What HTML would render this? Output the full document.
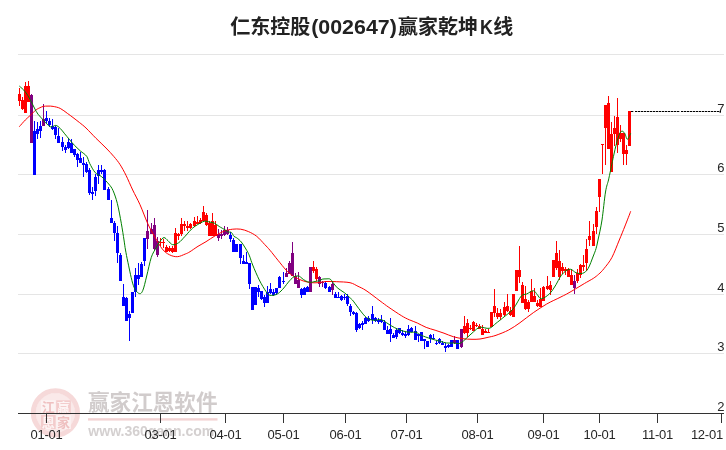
<!DOCTYPE html>
<html lang="zh-CN">
<head>
<meta charset="utf-8">
<title>仁东控股(002647)赢家乾坤K线</title>
<style>
html,body{margin:0;padding:0;background:#fff;}
body{width:726px;height:450px;overflow:hidden;position:relative;font-family:"Liberation Sans","Noto Sans CJK SC",sans-serif;}
#chart{position:absolute;left:0;top:0;width:726px;height:450px;display:block;}
.ttl{font-family:"Liberation Sans","Noto Sans CJK SC",sans-serif;font-weight:bold;font-size:20px;fill:#222;}
.lat{font-size:20.6px;}
.ax{font-family:"Liberation Sans",sans-serif;font-size:13px;letter-spacing:-0.25px;fill:#262626;}
.wm1{font-family:"Liberation Sans","Noto Sans CJK SC",sans-serif;font-size:21.5px;font-weight:bold;fill:#d1cccc;}
.wm2{font-family:"Liberation Sans",sans-serif;font-size:15px;font-weight:bold;fill:#d4d0d0;}
.seal{font-family:"Liberation Sans","Noto Sans CJK SC",sans-serif;font-size:13px;font-weight:bold;}
</style>
</head>
<body>
<svg id="chart" width="726" height="450" viewBox="0 0 726 450">
<rect x="0" y="0" width="726" height="450" fill="#ffffff"/>

<g shape-rendering="crispEdges" stroke="#e5e5e5" stroke-width="1">
<line x1="18" y1="54.5" x2="724" y2="54.5"/>
<line x1="18" y1="115.5" x2="724" y2="115.5"/>
<line x1="18" y1="174.5" x2="724" y2="174.5"/>
<line x1="18" y1="234.5" x2="724" y2="234.5"/>
<line x1="18" y1="294.5" x2="724" y2="294.5"/>
<line x1="18" y1="353.5" x2="724" y2="353.5"/>
</g>
<g id="watermark">
<circle cx="55.4" cy="412.8" r="19.8" fill="#fae9e9"/>
<circle cx="55.4" cy="412.8" r="22.1" fill="none" stroke="#f6d9d9" stroke-width="5"/>
<rect x="41" y="400.3" width="14.6" height="14" fill="#fcf3f3"/>
<rect x="56.2" y="400.3" width="14.6" height="14" fill="#f3cccc"/>
<rect x="41" y="415" width="14.6" height="14" fill="#f3cccc"/>
<rect x="56.2" y="415" width="14.6" height="14" fill="#fcf3f3"/>
<text class="seal" x="48.3" y="412.3" text-anchor="middle" fill="#efc0c0">江</text>
<text class="seal" x="63.5" y="412.3" text-anchor="middle" fill="#fdf4f4">赢</text>
<text class="seal" x="48.3" y="427" text-anchor="middle" fill="#fdf4f4">恩</text>
<text class="seal" x="63.5" y="427" text-anchor="middle" fill="#efc0c0">家</text>
<text class="wm1" x="88" y="409.5" textLength="129.5" lengthAdjust="spacingAndGlyphs">赢家江恩软件</text>
<rect x="88" y="418.2" width="129.5" height="2.4" fill="#f3d4d4"/>
<text class="wm2" x="88.3" y="436" textLength="126" lengthAdjust="spacingAndGlyphs">www.360gann.com</text>
</g>

<g shape-rendering="crispEdges" stroke="#333333" stroke-width="1">
<line x1="18" y1="413.5" x2="724" y2="413.5"/>
<line x1="46.5" y1="413" x2="46.5" y2="423"/>
<line x1="160.5" y1="413" x2="160.5" y2="423"/>
<line x1="225.5" y1="413" x2="225.5" y2="423"/>
<line x1="283.5" y1="413" x2="283.5" y2="423"/>
<line x1="345.5" y1="413" x2="345.5" y2="423"/>
<line x1="406.5" y1="413" x2="406.5" y2="423"/>
<line x1="477.5" y1="413" x2="477.5" y2="423"/>
<line x1="543.5" y1="413" x2="543.5" y2="423"/>
<line x1="599.5" y1="413" x2="599.5" y2="423"/>
<line x1="657.5" y1="413" x2="657.5" y2="423"/>
<line x1="721.5" y1="413" x2="721.5" y2="423"/>
</g>
<g class="ax" text-anchor="middle">
<text x="46.5" y="439.4">01-01</text>
<text x="160.5" y="439.4">03-01</text>
<text x="225.5" y="439.4">04-01</text>
<text x="283.5" y="439.4">05-01</text>
<text x="345.5" y="439.4">06-01</text>
<text x="406.5" y="439.4">07-01</text>
<text x="477.5" y="439.4">08-01</text>
<text x="543.5" y="439.4">09-01</text>
<text x="599.5" y="439.4">10-01</text>
<text x="657.5" y="439.4">11-01</text>
<text x="722.9" y="439.4" text-anchor="end">12-01</text>
</g>
<g class="ax" text-anchor="end">
<text x="724.2" y="112.7">7</text>
<text x="724.2" y="171.7">6</text>
<text x="724.2" y="231.7">5</text>
<text x="724.2" y="291.7">4</text>
<text x="724.2" y="350.7">3</text>
<text x="724.2" y="410.7">2</text>
</g>
<g id="candles" shape-rendering="crispEdges">
<rect x="19" y="88" width="1" height="18" fill="#ff0000"/>
<rect x="18" y="94" width="3" height="7" fill="#ff0000"/>
<rect x="22" y="97" width="1" height="13" fill="#ff0000"/>
<rect x="21" y="100" width="3" height="9" fill="#ff0000"/>
<rect x="25" y="82" width="1" height="31" fill="#ff0000"/>
<rect x="24" y="86" width="3" height="27" fill="#ff0000"/>
<rect x="28" y="81" width="1" height="21" fill="#ff0000"/>
<rect x="27" y="86" width="3" height="16" fill="#ff0000"/>
<rect x="31" y="94" width="1" height="49" fill="#800080"/>
<rect x="30" y="95" width="3" height="48" fill="#800080"/>
<rect x="34" y="121" width="1" height="54" fill="#0000ff"/>
<rect x="33" y="131" width="3" height="44" fill="#0000ff"/>
<rect x="37" y="122" width="1" height="17" fill="#0000ff"/>
<rect x="36" y="129" width="3" height="5" fill="#0000ff"/>
<rect x="40" y="121" width="1" height="17" fill="#0000ff"/>
<rect x="39" y="126" width="3" height="5" fill="#0000ff"/>
<rect x="43" y="104" width="1" height="22" fill="#800080"/>
<rect x="42" y="119" width="3" height="7" fill="#800080"/>
<rect x="46" y="111" width="1" height="12" fill="#0000ff"/>
<rect x="45" y="118" width="3" height="3" fill="#0000ff"/>
<rect x="49" y="118" width="1" height="9" fill="#0000ff"/>
<rect x="48" y="121" width="3" height="4" fill="#0000ff"/>
<rect x="52" y="119" width="1" height="11" fill="#0000ff"/>
<rect x="51" y="126" width="3" height="3" fill="#0000ff"/>
<rect x="55" y="126" width="1" height="13" fill="#0000ff"/>
<rect x="54" y="127" width="3" height="8" fill="#0000ff"/>
<rect x="58" y="128" width="1" height="15" fill="#0000ff"/>
<rect x="57" y="136" width="3" height="7" fill="#0000ff"/>
<rect x="62" y="137" width="1" height="14" fill="#0000ff"/>
<rect x="61" y="142" width="3" height="5" fill="#0000ff"/>
<rect x="65" y="145" width="1" height="8" fill="#0000ff"/>
<rect x="64" y="147" width="3" height="3" fill="#0000ff"/>
<rect x="68" y="138" width="1" height="11" fill="#0000ff"/>
<rect x="67" y="142" width="3" height="6" fill="#0000ff"/>
<rect x="71" y="139" width="1" height="14" fill="#0000ff"/>
<rect x="70" y="143" width="3" height="10" fill="#0000ff"/>
<rect x="74" y="149" width="1" height="8" fill="#0000ff"/>
<rect x="73" y="149" width="3" height="6" fill="#0000ff"/>
<rect x="77" y="153" width="1" height="14" fill="#0000ff"/>
<rect x="76" y="154" width="3" height="6" fill="#0000ff"/>
<rect x="80" y="152" width="1" height="11" fill="#0000ff"/>
<rect x="79" y="158" width="3" height="5" fill="#0000ff"/>
<rect x="83" y="157" width="1" height="20" fill="#0000ff"/>
<rect x="82" y="163" width="3" height="2" fill="#0000ff"/>
<rect x="86" y="162" width="1" height="11" fill="#0000ff"/>
<rect x="85" y="164" width="3" height="8" fill="#0000ff"/>
<rect x="89" y="168" width="1" height="27" fill="#0000ff"/>
<rect x="88" y="170" width="3" height="23" fill="#0000ff"/>
<rect x="92" y="187" width="1" height="13" fill="#0000ff"/>
<rect x="91" y="192" width="3" height="2" fill="#0000ff"/>
<rect x="95" y="174" width="1" height="22" fill="#0000ff"/>
<rect x="94" y="177" width="3" height="14" fill="#0000ff"/>
<rect x="98" y="165" width="1" height="19" fill="#0000ff"/>
<rect x="97" y="170" width="3" height="6" fill="#0000ff"/>
<rect x="101" y="165" width="1" height="9" fill="#0000ff"/>
<rect x="100" y="170" width="3" height="2" fill="#0000ff"/>
<rect x="104" y="169" width="1" height="21" fill="#0000ff"/>
<rect x="103" y="170" width="3" height="20" fill="#0000ff"/>
<rect x="108" y="187" width="1" height="13" fill="#0000ff"/>
<rect x="107" y="189" width="3" height="11" fill="#0000ff"/>
<rect x="111" y="200" width="1" height="23" fill="#0000ff"/>
<rect x="110" y="218" width="3" height="5" fill="#0000ff"/>
<rect x="114" y="221" width="1" height="20" fill="#0000ff"/>
<rect x="113" y="223" width="3" height="10" fill="#0000ff"/>
<rect x="117" y="226" width="1" height="37" fill="#0000ff"/>
<rect x="116" y="233" width="3" height="20" fill="#0000ff"/>
<rect x="120" y="253" width="1" height="28" fill="#0000ff"/>
<rect x="119" y="255" width="3" height="26" fill="#0000ff"/>
<rect x="123" y="284" width="1" height="22" fill="#0000ff"/>
<rect x="122" y="297" width="3" height="9" fill="#0000ff"/>
<rect x="126" y="297" width="1" height="24" fill="#0000ff"/>
<rect x="125" y="298" width="3" height="23" fill="#0000ff"/>
<rect x="129" y="311" width="1" height="30" fill="#0000ff"/>
<rect x="128" y="314" width="3" height="4" fill="#0000ff"/>
<rect x="132" y="292" width="1" height="21" fill="#0000ff"/>
<rect x="131" y="292" width="3" height="21" fill="#0000ff"/>
<rect x="135" y="268" width="1" height="29" fill="#0000ff"/>
<rect x="134" y="275" width="3" height="17" fill="#0000ff"/>
<rect x="138" y="263" width="1" height="22" fill="#0000ff"/>
<rect x="137" y="275" width="3" height="4" fill="#0000ff"/>
<rect x="141" y="262" width="1" height="15" fill="#0000ff"/>
<rect x="140" y="264" width="3" height="13" fill="#0000ff"/>
<rect x="144" y="238" width="1" height="28" fill="#0000ff"/>
<rect x="143" y="238" width="3" height="23" fill="#0000ff"/>
<rect x="147" y="210" width="1" height="39" fill="#800080"/>
<rect x="146" y="231" width="3" height="8" fill="#800080"/>
<rect x="151" y="223" width="1" height="11" fill="#800080"/>
<rect x="150" y="229" width="3" height="5" fill="#800080"/>
<rect x="154" y="218" width="1" height="32" fill="#800080"/>
<rect x="153" y="225" width="3" height="24" fill="#800080"/>
<rect x="157" y="237" width="1" height="20" fill="#800080"/>
<rect x="156" y="241" width="3" height="14" fill="#800080"/>
<rect x="160" y="238" width="1" height="8" fill="#ff0000"/>
<rect x="159" y="242" width="3" height="1" fill="#ff0000"/>
<rect x="163" y="239" width="1" height="9" fill="#ff0000"/>
<rect x="162" y="242" width="3" height="1" fill="#ff0000"/>
<rect x="166" y="245" width="1" height="7" fill="#ff0000"/>
<rect x="165" y="247" width="3" height="5" fill="#ff0000"/>
<rect x="169" y="246" width="1" height="6" fill="#ff0000"/>
<rect x="168" y="248" width="3" height="3" fill="#ff0000"/>
<rect x="172" y="246" width="1" height="7" fill="#ff0000"/>
<rect x="171" y="248" width="3" height="4" fill="#ff0000"/>
<rect x="175" y="228" width="1" height="24" fill="#ff0000"/>
<rect x="174" y="233" width="3" height="19" fill="#ff0000"/>
<rect x="178" y="233" width="1" height="7" fill="#ff0000"/>
<rect x="177" y="234" width="3" height="2" fill="#ff0000"/>
<rect x="181" y="218" width="1" height="18" fill="#ff0000"/>
<rect x="180" y="224" width="3" height="10" fill="#ff0000"/>
<rect x="184" y="221" width="1" height="10" fill="#ff0000"/>
<rect x="183" y="224" width="3" height="2" fill="#ff0000"/>
<rect x="187" y="221" width="1" height="10" fill="#ff0000"/>
<rect x="186" y="226" width="3" height="2" fill="#ff0000"/>
<rect x="190" y="223" width="1" height="6" fill="#ff0000"/>
<rect x="189" y="224" width="3" height="4" fill="#ff0000"/>
<rect x="194" y="217" width="1" height="10" fill="#ff0000"/>
<rect x="193" y="221" width="3" height="5" fill="#ff0000"/>
<rect x="197" y="216" width="1" height="8" fill="#ff0000"/>
<rect x="196" y="222" width="3" height="2" fill="#ff0000"/>
<rect x="200" y="218" width="1" height="6" fill="#ff0000"/>
<rect x="199" y="220" width="3" height="3" fill="#ff0000"/>
<rect x="203" y="206" width="1" height="15" fill="#ff0000"/>
<rect x="202" y="212" width="3" height="9" fill="#ff0000"/>
<rect x="206" y="213" width="1" height="13" fill="#ff0000"/>
<rect x="205" y="215" width="3" height="10" fill="#ff0000"/>
<rect x="209" y="221" width="1" height="15" fill="#ff0000"/>
<rect x="208" y="223" width="3" height="13" fill="#ff0000"/>
<rect x="212" y="213" width="1" height="23" fill="#ff0000"/>
<rect x="211" y="221" width="3" height="15" fill="#ff0000"/>
<rect x="215" y="221" width="1" height="15" fill="#ff0000"/>
<rect x="214" y="225" width="3" height="11" fill="#ff0000"/>
<rect x="218" y="229" width="1" height="12" fill="#800080"/>
<rect x="217" y="234" width="3" height="4" fill="#800080"/>
<rect x="221" y="230" width="1" height="9" fill="#800080"/>
<rect x="220" y="234" width="3" height="2" fill="#800080"/>
<rect x="224" y="226" width="1" height="10" fill="#800080"/>
<rect x="223" y="230" width="3" height="5" fill="#800080"/>
<rect x="227" y="227" width="1" height="8" fill="#800080"/>
<rect x="226" y="230" width="3" height="4" fill="#800080"/>
<rect x="230" y="232" width="1" height="10" fill="#0000ff"/>
<rect x="229" y="235" width="3" height="4" fill="#0000ff"/>
<rect x="233" y="238" width="1" height="14" fill="#0000ff"/>
<rect x="232" y="240" width="3" height="12" fill="#0000ff"/>
<rect x="236" y="244" width="1" height="8" fill="#0000ff"/>
<rect x="235" y="244" width="3" height="8" fill="#0000ff"/>
<rect x="240" y="244" width="1" height="20" fill="#0000ff"/>
<rect x="239" y="244" width="3" height="14" fill="#0000ff"/>
<rect x="243" y="255" width="1" height="9" fill="#0000ff"/>
<rect x="242" y="261" width="3" height="3" fill="#0000ff"/>
<rect x="246" y="252" width="1" height="12" fill="#0000ff"/>
<rect x="245" y="262" width="3" height="2" fill="#0000ff"/>
<rect x="249" y="263" width="1" height="26" fill="#0000ff"/>
<rect x="248" y="263" width="3" height="21" fill="#0000ff"/>
<rect x="252" y="287" width="1" height="23" fill="#0000ff"/>
<rect x="251" y="287" width="3" height="23" fill="#0000ff"/>
<rect x="255" y="287" width="1" height="18" fill="#0000ff"/>
<rect x="254" y="287" width="3" height="18" fill="#0000ff"/>
<rect x="258" y="285" width="1" height="12" fill="#0000ff"/>
<rect x="257" y="288" width="3" height="4" fill="#0000ff"/>
<rect x="261" y="291" width="1" height="9" fill="#0000ff"/>
<rect x="260" y="291" width="3" height="8" fill="#0000ff"/>
<rect x="264" y="295" width="1" height="12" fill="#0000ff"/>
<rect x="263" y="297" width="3" height="6" fill="#0000ff"/>
<rect x="267" y="286" width="1" height="17" fill="#0000ff"/>
<rect x="266" y="292" width="3" height="11" fill="#0000ff"/>
<rect x="270" y="283" width="1" height="11" fill="#0000ff"/>
<rect x="269" y="289" width="3" height="4" fill="#0000ff"/>
<rect x="273" y="289" width="1" height="7" fill="#0000ff"/>
<rect x="272" y="292" width="3" height="3" fill="#0000ff"/>
<rect x="276" y="288" width="1" height="7" fill="#0000ff"/>
<rect x="275" y="288" width="3" height="5" fill="#0000ff"/>
<rect x="279" y="276" width="1" height="12" fill="#0000ff"/>
<rect x="278" y="277" width="3" height="11" fill="#0000ff"/>
<rect x="283" y="272" width="1" height="12" fill="#0000ff"/>
<rect x="282" y="281" width="3" height="1" fill="#0000ff"/>
<rect x="286" y="268" width="1" height="9" fill="#800080"/>
<rect x="285" y="273" width="3" height="4" fill="#800080"/>
<rect x="289" y="261" width="1" height="13" fill="#800080"/>
<rect x="288" y="263" width="3" height="11" fill="#800080"/>
<rect x="292" y="242" width="1" height="34" fill="#800080"/>
<rect x="291" y="253" width="3" height="23" fill="#800080"/>
<rect x="295" y="273" width="1" height="11" fill="#800080"/>
<rect x="294" y="276" width="3" height="8" fill="#800080"/>
<rect x="298" y="272" width="1" height="16" fill="#800080"/>
<rect x="297" y="280" width="3" height="8" fill="#800080"/>
<rect x="301" y="288" width="1" height="10" fill="#0000ff"/>
<rect x="300" y="289" width="3" height="6" fill="#0000ff"/>
<rect x="304" y="287" width="1" height="8" fill="#0000ff"/>
<rect x="303" y="288" width="3" height="7" fill="#0000ff"/>
<rect x="307" y="286" width="1" height="6" fill="#0000ff"/>
<rect x="306" y="287" width="3" height="5" fill="#0000ff"/>
<rect x="310" y="267" width="1" height="25" fill="#800080"/>
<rect x="309" y="267" width="3" height="25" fill="#800080"/>
<rect x="313" y="261" width="1" height="12" fill="#ff0000"/>
<rect x="312" y="267" width="3" height="4" fill="#ff0000"/>
<rect x="316" y="267" width="1" height="14" fill="#ff0000"/>
<rect x="315" y="269" width="3" height="10" fill="#ff0000"/>
<rect x="319" y="276" width="1" height="11" fill="#800080"/>
<rect x="318" y="277" width="3" height="7" fill="#800080"/>
<rect x="322" y="281" width="1" height="6" fill="#800080"/>
<rect x="321" y="282" width="3" height="1" fill="#800080"/>
<rect x="325" y="281" width="1" height="8" fill="#0000ff"/>
<rect x="324" y="283" width="3" height="5" fill="#0000ff"/>
<rect x="329" y="286" width="1" height="6" fill="#0000ff"/>
<rect x="328" y="287" width="3" height="5" fill="#0000ff"/>
<rect x="332" y="282" width="1" height="13" fill="#800080"/>
<rect x="331" y="284" width="3" height="6" fill="#800080"/>
<rect x="335" y="292" width="1" height="6" fill="#0000ff"/>
<rect x="334" y="294" width="3" height="4" fill="#0000ff"/>
<rect x="338" y="292" width="1" height="6" fill="#0000ff"/>
<rect x="337" y="297" width="3" height="1" fill="#0000ff"/>
<rect x="341" y="295" width="1" height="6" fill="#0000ff"/>
<rect x="340" y="296" width="3" height="4" fill="#0000ff"/>
<rect x="344" y="294" width="1" height="6" fill="#0000ff"/>
<rect x="343" y="297" width="3" height="1" fill="#0000ff"/>
<rect x="347" y="294" width="1" height="12" fill="#0000ff"/>
<rect x="346" y="296" width="3" height="8" fill="#0000ff"/>
<rect x="350" y="304" width="1" height="12" fill="#0000ff"/>
<rect x="349" y="306" width="3" height="6" fill="#0000ff"/>
<rect x="353" y="311" width="1" height="4" fill="#0000ff"/>
<rect x="352" y="312" width="3" height="2" fill="#0000ff"/>
<rect x="356" y="312" width="1" height="20" fill="#0000ff"/>
<rect x="355" y="313" width="3" height="17" fill="#0000ff"/>
<rect x="359" y="323" width="1" height="6" fill="#0000ff"/>
<rect x="358" y="324" width="3" height="4" fill="#0000ff"/>
<rect x="362" y="321" width="1" height="9" fill="#0000ff"/>
<rect x="361" y="323" width="3" height="2" fill="#0000ff"/>
<rect x="365" y="317" width="1" height="7" fill="#0000ff"/>
<rect x="364" y="318" width="3" height="6" fill="#0000ff"/>
<rect x="368" y="316" width="1" height="6" fill="#0000ff"/>
<rect x="367" y="318" width="3" height="3" fill="#0000ff"/>
<rect x="372" y="306" width="1" height="18" fill="#0000ff"/>
<rect x="371" y="314" width="3" height="6" fill="#0000ff"/>
<rect x="375" y="317" width="1" height="5" fill="#0000ff"/>
<rect x="374" y="318" width="3" height="3" fill="#0000ff"/>
<rect x="378" y="318" width="1" height="6" fill="#0000ff"/>
<rect x="377" y="320" width="3" height="2" fill="#0000ff"/>
<rect x="381" y="315" width="1" height="8" fill="#0000ff"/>
<rect x="380" y="320" width="3" height="2" fill="#0000ff"/>
<rect x="384" y="320" width="1" height="10" fill="#0000ff"/>
<rect x="383" y="322" width="3" height="8" fill="#0000ff"/>
<rect x="387" y="326" width="1" height="8" fill="#0000ff"/>
<rect x="386" y="330" width="3" height="4" fill="#0000ff"/>
<rect x="390" y="318" width="1" height="24" fill="#0000ff"/>
<rect x="389" y="329" width="3" height="5" fill="#0000ff"/>
<rect x="393" y="333" width="1" height="5" fill="#0000ff"/>
<rect x="392" y="335" width="3" height="3" fill="#0000ff"/>
<rect x="396" y="328" width="1" height="11" fill="#0000ff"/>
<rect x="395" y="330" width="3" height="7" fill="#0000ff"/>
<rect x="399" y="328" width="1" height="6" fill="#0000ff"/>
<rect x="398" y="328" width="3" height="5" fill="#0000ff"/>
<rect x="402" y="330" width="1" height="6" fill="#0000ff"/>
<rect x="401" y="333" width="3" height="2" fill="#0000ff"/>
<rect x="405" y="332" width="1" height="6" fill="#0000ff"/>
<rect x="404" y="334" width="3" height="2" fill="#0000ff"/>
<rect x="408" y="325" width="1" height="11" fill="#0000ff"/>
<rect x="407" y="329" width="3" height="6" fill="#0000ff"/>
<rect x="411" y="327" width="1" height="5" fill="#0000ff"/>
<rect x="410" y="328" width="3" height="4" fill="#0000ff"/>
<rect x="415" y="326" width="1" height="14" fill="#0000ff"/>
<rect x="414" y="331" width="3" height="9" fill="#0000ff"/>
<rect x="418" y="334" width="1" height="8" fill="#0000ff"/>
<rect x="417" y="334" width="3" height="2" fill="#0000ff"/>
<rect x="421" y="332" width="1" height="9" fill="#0000ff"/>
<rect x="420" y="332" width="3" height="9" fill="#0000ff"/>
<rect x="424" y="339" width="1" height="10" fill="#0000ff"/>
<rect x="423" y="339" width="3" height="2" fill="#0000ff"/>
<rect x="427" y="341" width="1" height="6" fill="#0000ff"/>
<rect x="426" y="341" width="3" height="6" fill="#0000ff"/>
<rect x="430" y="334" width="1" height="9" fill="#0000ff"/>
<rect x="429" y="335" width="3" height="4" fill="#0000ff"/>
<rect x="433" y="334" width="1" height="5" fill="#0000ff"/>
<rect x="432" y="338" width="3" height="1" fill="#0000ff"/>
<rect x="436" y="341" width="1" height="4" fill="#0000ff"/>
<rect x="435" y="343" width="3" height="1" fill="#0000ff"/>
<rect x="439" y="338" width="1" height="6" fill="#0000ff"/>
<rect x="438" y="339" width="3" height="4" fill="#0000ff"/>
<rect x="442" y="341" width="1" height="4" fill="#0000ff"/>
<rect x="441" y="343" width="3" height="2" fill="#0000ff"/>
<rect x="445" y="343" width="1" height="9" fill="#0000ff"/>
<rect x="444" y="346" width="3" height="2" fill="#0000ff"/>
<rect x="448" y="344" width="1" height="4" fill="#0000ff"/>
<rect x="447" y="345" width="3" height="2" fill="#0000ff"/>
<rect x="451" y="340" width="1" height="7" fill="#0000ff"/>
<rect x="450" y="340" width="3" height="7" fill="#0000ff"/>
<rect x="454" y="336" width="1" height="8" fill="#800080"/>
<rect x="453" y="340" width="3" height="3" fill="#800080"/>
<rect x="457" y="340" width="1" height="9" fill="#0000ff"/>
<rect x="456" y="340" width="3" height="9" fill="#0000ff"/>
<rect x="461" y="329" width="1" height="19" fill="#800080"/>
<rect x="460" y="329" width="3" height="18" fill="#800080"/>
<rect x="464" y="316" width="1" height="18" fill="#ff0000"/>
<rect x="463" y="326" width="3" height="7" fill="#ff0000"/>
<rect x="467" y="319" width="1" height="18" fill="#ff0000"/>
<rect x="466" y="323" width="3" height="10" fill="#ff0000"/>
<rect x="470" y="325" width="1" height="5" fill="#ff0000"/>
<rect x="469" y="328" width="3" height="1" fill="#ff0000"/>
<rect x="473" y="321" width="1" height="10" fill="#ff0000"/>
<rect x="472" y="322" width="3" height="9" fill="#ff0000"/>
<rect x="476" y="323" width="1" height="4" fill="#ff0000"/>
<rect x="475" y="325" width="3" height="1" fill="#ff0000"/>
<rect x="479" y="324" width="1" height="5" fill="#ff0000"/>
<rect x="478" y="326" width="3" height="3" fill="#ff0000"/>
<rect x="482" y="325" width="1" height="10" fill="#ff0000"/>
<rect x="481" y="329" width="3" height="6" fill="#ff0000"/>
<rect x="485" y="329" width="1" height="4" fill="#ff0000"/>
<rect x="484" y="331" width="3" height="2" fill="#ff0000"/>
<rect x="488" y="329" width="1" height="4" fill="#ff0000"/>
<rect x="487" y="332" width="3" height="1" fill="#ff0000"/>
<rect x="491" y="312" width="1" height="15" fill="#ff0000"/>
<rect x="490" y="312" width="3" height="15" fill="#ff0000"/>
<rect x="494" y="289" width="1" height="28" fill="#ff0000"/>
<rect x="493" y="306" width="3" height="7" fill="#ff0000"/>
<rect x="497" y="308" width="1" height="11" fill="#ff0000"/>
<rect x="496" y="313" width="3" height="4" fill="#ff0000"/>
<rect x="500" y="309" width="1" height="11" fill="#ff0000"/>
<rect x="499" y="313" width="3" height="4" fill="#ff0000"/>
<rect x="504" y="302" width="1" height="14" fill="#ff0000"/>
<rect x="503" y="307" width="3" height="8" fill="#ff0000"/>
<rect x="507" y="294" width="1" height="18" fill="#ff0000"/>
<rect x="506" y="306" width="3" height="5" fill="#ff0000"/>
<rect x="510" y="307" width="1" height="9" fill="#ff0000"/>
<rect x="509" y="311" width="3" height="4" fill="#ff0000"/>
<rect x="513" y="294" width="1" height="23" fill="#ff0000"/>
<rect x="512" y="294" width="3" height="23" fill="#ff0000"/>
<rect x="516" y="270" width="1" height="21" fill="#ff0000"/>
<rect x="515" y="270" width="3" height="21" fill="#ff0000"/>
<rect x="519" y="246" width="1" height="37" fill="#ff0000"/>
<rect x="518" y="270" width="3" height="7" fill="#ff0000"/>
<rect x="522" y="282" width="1" height="21" fill="#ff0000"/>
<rect x="521" y="285" width="3" height="18" fill="#ff0000"/>
<rect x="525" y="286" width="1" height="24" fill="#ff0000"/>
<rect x="524" y="299" width="3" height="10" fill="#ff0000"/>
<rect x="528" y="300" width="1" height="12" fill="#ff0000"/>
<rect x="527" y="302" width="3" height="7" fill="#ff0000"/>
<rect x="531" y="279" width="1" height="23" fill="#ff0000"/>
<rect x="530" y="291" width="3" height="11" fill="#ff0000"/>
<rect x="534" y="288" width="1" height="14" fill="#ff0000"/>
<rect x="533" y="296" width="3" height="6" fill="#ff0000"/>
<rect x="537" y="300" width="1" height="7" fill="#ff0000"/>
<rect x="536" y="303" width="3" height="3" fill="#ff0000"/>
<rect x="540" y="288" width="1" height="19" fill="#ff0000"/>
<rect x="539" y="299" width="3" height="8" fill="#ff0000"/>
<rect x="543" y="286" width="1" height="15" fill="#ff0000"/>
<rect x="542" y="287" width="3" height="14" fill="#ff0000"/>
<rect x="547" y="276" width="1" height="14" fill="#ff0000"/>
<rect x="546" y="286" width="3" height="3" fill="#ff0000"/>
<rect x="550" y="281" width="1" height="14" fill="#ff0000"/>
<rect x="549" y="285" width="3" height="5" fill="#ff0000"/>
<rect x="553" y="260" width="1" height="17" fill="#ff0000"/>
<rect x="552" y="260" width="3" height="17" fill="#ff0000"/>
<rect x="556" y="241" width="1" height="29" fill="#ff0000"/>
<rect x="555" y="253" width="3" height="15" fill="#ff0000"/>
<rect x="559" y="250" width="1" height="30" fill="#ff0000"/>
<rect x="558" y="261" width="3" height="16" fill="#ff0000"/>
<rect x="562" y="263" width="1" height="11" fill="#ff0000"/>
<rect x="561" y="267" width="3" height="4" fill="#ff0000"/>
<rect x="565" y="267" width="1" height="8" fill="#ff0000"/>
<rect x="564" y="269" width="3" height="2" fill="#ff0000"/>
<rect x="568" y="268" width="1" height="9" fill="#ff0000"/>
<rect x="567" y="269" width="3" height="8" fill="#ff0000"/>
<rect x="571" y="269" width="1" height="16" fill="#ff0000"/>
<rect x="570" y="275" width="3" height="10" fill="#ff0000"/>
<rect x="574" y="275" width="1" height="19" fill="#800080"/>
<rect x="573" y="281" width="3" height="7" fill="#800080"/>
<rect x="577" y="269" width="1" height="14" fill="#ff0000"/>
<rect x="576" y="273" width="3" height="8" fill="#ff0000"/>
<rect x="580" y="264" width="1" height="14" fill="#ff0000"/>
<rect x="579" y="265" width="3" height="10" fill="#ff0000"/>
<rect x="583" y="255" width="1" height="16" fill="#ff0000"/>
<rect x="582" y="265" width="3" height="2" fill="#ff0000"/>
<rect x="586" y="239" width="1" height="32" fill="#ff0000"/>
<rect x="585" y="249" width="3" height="14" fill="#ff0000"/>
<rect x="589" y="221" width="1" height="25" fill="#ff0000"/>
<rect x="588" y="236" width="3" height="4" fill="#ff0000"/>
<rect x="593" y="224" width="1" height="22" fill="#ff0000"/>
<rect x="592" y="231" width="3" height="15" fill="#ff0000"/>
<rect x="596" y="207" width="1" height="27" fill="#ff0000"/>
<rect x="595" y="211" width="3" height="16" fill="#ff0000"/>
<rect x="599" y="179" width="1" height="33" fill="#ff0000"/>
<rect x="598" y="179" width="3" height="18" fill="#ff0000"/>
<rect x="602" y="144" width="1" height="30" fill="#ff0000"/>
<rect x="601" y="144" width="3" height="1" fill="#ff0000"/>
<rect x="605" y="105" width="1" height="60" fill="#ff0000"/>
<rect x="604" y="105" width="3" height="23" fill="#ff0000"/>
<rect x="608" y="96" width="1" height="53" fill="#ff0000"/>
<rect x="607" y="103" width="3" height="46" fill="#ff0000"/>
<rect x="611" y="122" width="1" height="50" fill="#ff0000"/>
<rect x="610" y="134" width="3" height="38" fill="#ff0000"/>
<rect x="614" y="116" width="1" height="30" fill="#ff0000"/>
<rect x="613" y="128" width="3" height="6" fill="#ff0000"/>
<rect x="617" y="98" width="1" height="55" fill="#ff0000"/>
<rect x="616" y="117" width="3" height="28" fill="#ff0000"/>
<rect x="620" y="125" width="1" height="17" fill="#ff0000"/>
<rect x="619" y="133" width="3" height="6" fill="#ff0000"/>
<rect x="623" y="133" width="1" height="32" fill="#ff0000"/>
<rect x="622" y="133" width="3" height="21" fill="#ff0000"/>
<rect x="626" y="145" width="1" height="20" fill="#ff0000"/>
<rect x="625" y="150" width="3" height="4" fill="#ff0000"/>
<rect x="629" y="111" width="1" height="35" fill="#ff0000"/>
<rect x="628" y="111" width="3" height="35" fill="#ff0000"/>
</g>
<path d="M19.3 126.7C20.3 125.6 23.5 121.8 25.3 120.0C27.1 118.2 28.2 117.3 30.0 115.6C31.8 113.9 34.5 111.1 36.2 109.8C37.9 108.5 38.8 108.3 40.0 107.7C41.2 107.1 42.0 106.7 43.3 106.4C44.6 106.1 46.4 106.1 48.0 106.1C49.6 106.1 51.1 106.0 53.1 106.4C55.1 106.8 57.8 107.2 60.2 108.4C62.6 109.6 65.2 111.8 67.3 113.3C69.4 114.8 71.0 116.0 73.0 117.5C75.0 119.0 77.1 120.7 79.3 122.4C81.5 124.2 83.2 125.3 86.0 128.0C88.8 130.7 92.7 135.0 96.0 138.3C99.3 141.6 103.0 144.9 106.0 148.0C109.0 151.1 111.7 153.9 114.0 156.7C116.3 159.4 118.0 161.4 120.0 164.5C122.0 167.6 123.9 171.1 126.0 175.3C128.1 179.6 130.4 185.1 132.7 190.0C135.0 194.9 137.5 199.1 140.0 204.7C142.5 210.2 145.2 218.0 147.6 223.3C150.0 228.6 152.2 232.4 154.7 236.7C157.1 241.0 159.9 246.0 162.3 249.0C164.7 252.0 166.8 253.4 169.3 254.7C171.8 256.0 174.6 256.8 177.3 256.7C180.0 256.6 183.2 254.8 185.3 254.0C187.4 253.2 187.9 253.0 190.0 251.7C192.1 250.4 195.3 248.0 198.0 246.3C200.7 244.6 203.1 243.5 206.0 241.7C208.9 239.9 212.2 237.5 215.3 235.7C218.4 233.9 221.5 232.1 224.4 231.0C227.3 229.9 230.0 229.5 232.7 229.2C235.4 228.9 238.0 228.8 240.7 229.2C243.4 229.6 246.0 230.5 248.7 231.7C251.4 232.9 254.0 234.2 256.7 236.3C259.4 238.4 262.5 242.2 264.7 244.5C266.9 246.8 267.8 247.7 270.0 250.3C272.2 252.9 275.3 257.0 278.0 260.3C280.7 263.6 283.6 267.4 286.0 270.0C288.4 272.6 290.0 273.9 292.7 275.7C295.4 277.4 299.1 279.4 302.0 280.5C304.9 281.6 307.3 282.1 310.0 282.5C312.7 282.9 315.3 282.9 318.0 282.7C320.7 282.5 322.9 281.7 326.0 281.5C329.1 281.3 332.7 281.5 336.7 281.7C340.7 281.9 346.4 281.9 350.0 282.7C353.6 283.5 355.3 285.0 358.0 286.3C360.7 287.6 362.3 288.1 366.0 290.5C369.7 292.9 376.2 298.1 380.0 300.9C383.8 303.7 385.3 304.9 388.9 307.4C392.4 309.8 397.9 313.5 401.3 315.6C404.7 317.7 406.6 318.6 409.3 319.8C412.0 321.0 414.5 321.7 417.3 323.0C420.1 324.3 423.2 326.2 426.2 327.4C429.2 328.6 432.1 329.2 435.1 330.2C438.1 331.2 441.0 332.1 444.0 333.2C447.0 334.3 450.2 335.8 453.3 336.7C456.4 337.6 459.6 338.3 462.7 338.7C465.8 339.1 469.1 339.2 472.0 339.3C474.9 339.4 477.3 339.3 480.0 339.0C482.7 338.7 485.3 337.9 488.0 337.3C490.7 336.7 492.6 336.5 496.0 335.3C499.4 334.1 504.7 332.1 508.7 330.0C512.7 327.9 515.9 325.6 520.0 322.7C524.1 319.8 528.8 315.8 533.3 312.7C537.8 309.6 542.2 306.6 546.7 304.0C551.2 301.4 556.7 299.1 560.0 297.4C563.3 295.7 564.1 295.4 566.7 294.0C569.3 292.6 572.7 290.6 575.6 288.8C578.5 287.1 581.5 285.2 584.4 283.5C587.3 281.8 590.9 279.9 593.3 278.4C595.7 276.8 596.9 275.8 598.7 274.2C600.5 272.6 601.8 271.4 604.0 268.6C606.2 265.8 609.5 262.1 612.0 257.3C614.5 252.5 617.1 245.2 619.3 240.0C621.5 234.8 623.1 230.8 625.0 226.0C626.9 221.2 629.8 213.8 630.7 211.3" fill="none" stroke="#ff0000" stroke-width="1" stroke-linejoin="round"/>
<path d="M19.3 86.0C20.3 87.0 23.5 89.5 25.3 91.8C27.1 94.1 28.9 97.3 30.4 100.0C31.9 102.7 33.1 105.6 34.4 108.0C35.7 110.4 36.5 112.2 38.0 114.2C39.5 116.2 41.7 118.2 43.3 120.0C44.9 121.8 46.5 123.7 47.8 124.9C49.1 126.1 50.0 126.9 51.3 127.0C52.6 127.1 54.3 125.2 55.8 125.4C57.3 125.6 58.7 127.0 60.2 128.4C61.7 129.8 63.2 132.0 64.7 133.8C66.2 135.6 67.5 137.2 69.1 139.1C70.7 141.0 72.5 143.3 74.4 145.3C76.3 147.3 78.4 149.2 80.4 151.0C82.5 152.8 85.2 154.2 86.7 156.3C88.2 158.4 88.2 160.6 89.6 163.3C91.0 166.0 93.3 170.5 95.3 172.7C97.3 174.9 99.4 174.8 101.6 176.7C103.8 178.6 106.8 181.7 108.7 184.0C110.6 186.3 111.6 187.3 113.0 190.5C114.4 193.7 115.9 197.8 117.3 203.3C118.7 208.8 120.2 217.2 121.3 223.3C122.4 229.4 123.3 235.6 124.0 240.0C124.7 244.4 124.8 246.2 125.5 250.0C126.2 253.8 126.7 256.8 128.0 262.7C129.3 268.6 131.5 280.2 133.3 285.3C135.1 290.4 137.1 292.4 138.7 293.3C140.3 294.2 141.4 293.6 142.7 290.7C144.0 287.8 145.3 281.6 146.7 276.0C148.1 270.4 149.8 262.0 151.3 257.3C152.9 252.6 154.6 250.7 156.0 248.0C157.4 245.3 158.7 243.0 160.0 241.3C161.3 239.6 162.7 237.7 164.0 237.6C165.3 237.5 166.6 239.5 168.0 240.7C169.4 241.9 170.9 244.4 172.7 244.7C174.5 245.0 176.7 244.0 178.7 242.7C180.7 241.4 182.7 238.8 184.7 236.7C186.7 234.6 189.1 231.6 190.7 230.0C192.2 228.4 192.4 228.2 194.0 227.0C195.6 225.8 198.6 224.0 200.4 223.0C202.2 222.0 203.4 221.3 204.9 221.1C206.4 220.9 207.7 221.6 209.3 222.0C210.9 222.4 213.1 222.6 214.7 223.3C216.3 224.0 217.3 225.3 219.1 226.4C220.9 227.5 223.8 229.1 225.3 230.0C226.8 230.9 227.0 231.6 228.0 232.0C229.0 232.4 230.3 231.7 231.3 232.4C232.3 233.1 233.1 235.5 234.0 236.4C234.9 237.3 235.5 236.9 236.7 237.8C237.9 238.7 239.9 240.3 241.3 242.0C242.7 243.7 244.2 246.2 245.3 248.0C246.4 249.8 247.2 251.1 248.0 252.7C248.8 254.2 249.2 255.2 250.0 257.3C250.8 259.4 251.1 261.2 252.7 265.0C254.2 268.8 257.1 275.6 259.3 280.0C261.5 284.4 264.2 288.9 266.0 291.5C267.8 294.1 268.2 294.8 270.0 295.3C271.8 295.8 274.6 295.2 276.7 294.3C278.8 293.4 280.5 291.5 282.4 289.6C284.2 287.7 286.4 284.6 287.8 282.9C289.2 281.2 289.9 280.3 290.9 279.3C291.9 278.3 293.0 277.2 294.0 276.7C295.0 276.1 295.8 276.1 296.7 276.0C297.6 275.9 298.4 275.8 299.3 276.2C300.2 276.6 301.0 277.6 302.0 278.4C303.0 279.1 304.0 280.0 305.3 280.7C306.6 281.4 308.2 282.3 309.8 282.4C311.4 282.5 313.5 281.8 315.1 281.5C316.7 281.2 318.4 281.0 319.6 280.6C320.8 280.2 321.1 279.5 322.2 279.2C323.3 278.9 324.7 278.9 326.0 278.9C327.3 278.9 329.1 278.5 330.2 279.1C331.3 279.7 331.7 280.9 332.9 282.4C334.1 283.8 335.4 286.1 337.3 287.8C339.2 289.5 342.3 291.1 344.4 292.7C346.5 294.3 348.3 296.2 349.8 297.6C351.3 299.0 351.5 298.9 353.3 301.1C355.1 303.4 358.5 308.3 360.7 311.1C362.9 313.9 364.6 316.2 366.7 317.7C368.8 319.2 370.9 320.0 373.3 320.3C375.7 320.6 378.9 319.1 381.3 319.7C383.8 320.3 385.8 322.4 388.0 323.7C390.2 325.0 392.2 326.5 394.7 327.7C397.1 328.9 400.0 330.2 402.7 331.0C405.4 331.8 408.5 332.1 410.7 332.3C412.9 332.5 414.2 331.8 416.0 332.3C417.8 332.8 418.9 334.2 421.3 335.3C423.8 336.4 427.6 337.7 430.7 338.7C433.8 339.7 437.3 340.6 440.0 341.3C442.7 342.0 444.5 342.7 446.7 343.0C448.9 343.3 451.1 342.9 453.3 343.0C455.5 343.1 457.8 344.1 460.0 343.3C462.2 342.5 464.5 339.9 466.7 338.0C468.9 336.1 471.1 333.8 473.3 332.0C475.5 330.2 477.3 327.9 480.0 327.3C482.7 326.7 486.6 329.0 489.3 328.3C492.0 327.6 493.8 325.0 496.0 323.3C498.2 321.6 499.8 320.4 502.7 318.0C505.6 315.6 510.2 312.4 513.3 308.7C516.4 305.0 519.1 298.4 521.3 296.0C523.5 293.6 524.7 294.9 526.7 294.0C528.7 293.1 531.5 290.6 533.3 290.7C535.1 290.8 536.0 293.4 537.3 294.7C538.6 296.0 539.3 298.8 541.3 298.7C543.3 298.6 546.8 296.3 549.3 294.0C551.8 291.7 554.2 287.5 556.0 284.7C557.8 281.9 558.5 279.5 560.0 277.3C561.5 275.1 563.5 272.6 565.3 271.3C567.1 270.0 568.9 269.1 570.7 269.3C572.5 269.5 574.0 272.0 576.0 272.7C578.0 273.4 580.7 274.0 582.7 273.3C584.7 272.6 586.2 271.6 588.0 268.7C589.8 265.8 592.0 259.3 593.3 256.0C594.6 252.7 595.2 251.4 596.0 248.7C596.8 246.0 597.0 244.8 598.0 240.0C599.0 235.2 600.8 228.0 602.0 220.0C603.2 212.0 604.4 198.7 605.5 192.0C606.6 185.3 607.8 183.2 608.5 180.0C609.2 176.8 609.1 177.3 610.0 173.0C610.9 168.7 612.7 159.8 614.0 154.0C615.3 148.2 616.8 141.8 618.0 138.0C619.2 134.2 620.2 132.1 621.3 131.3C622.4 130.5 623.7 132.0 624.7 133.3C625.7 134.6 626.3 139.3 627.3 139.3C628.3 139.3 630.1 134.3 630.7 133.3" fill="none" stroke="#008000" stroke-width="1" stroke-linejoin="round"/>
<g stroke="#000" stroke-width="1" stroke-dasharray="2.3,0.7"><line x1="631" y1="111.5" x2="634" y2="111.5"/><line x1="635" y1="111.5" x2="680" y2="111.5"/><line x1="681" y1="111.5" x2="721" y2="111.5"/></g>
<text class="ttl" y="34.2"><tspan x="230.3">仁东控股</tspan><tspan class="lat" x="311.2" textLength="85.6" lengthAdjust="spacingAndGlyphs">(002647)</tspan><tspan x="397.9">赢家乾坤</tspan><tspan class="lat" x="479.9" textLength="12.9" lengthAdjust="spacingAndGlyphs">K</tspan><tspan x="493.2">线</tspan></text>
</svg>
</body>
</html>
